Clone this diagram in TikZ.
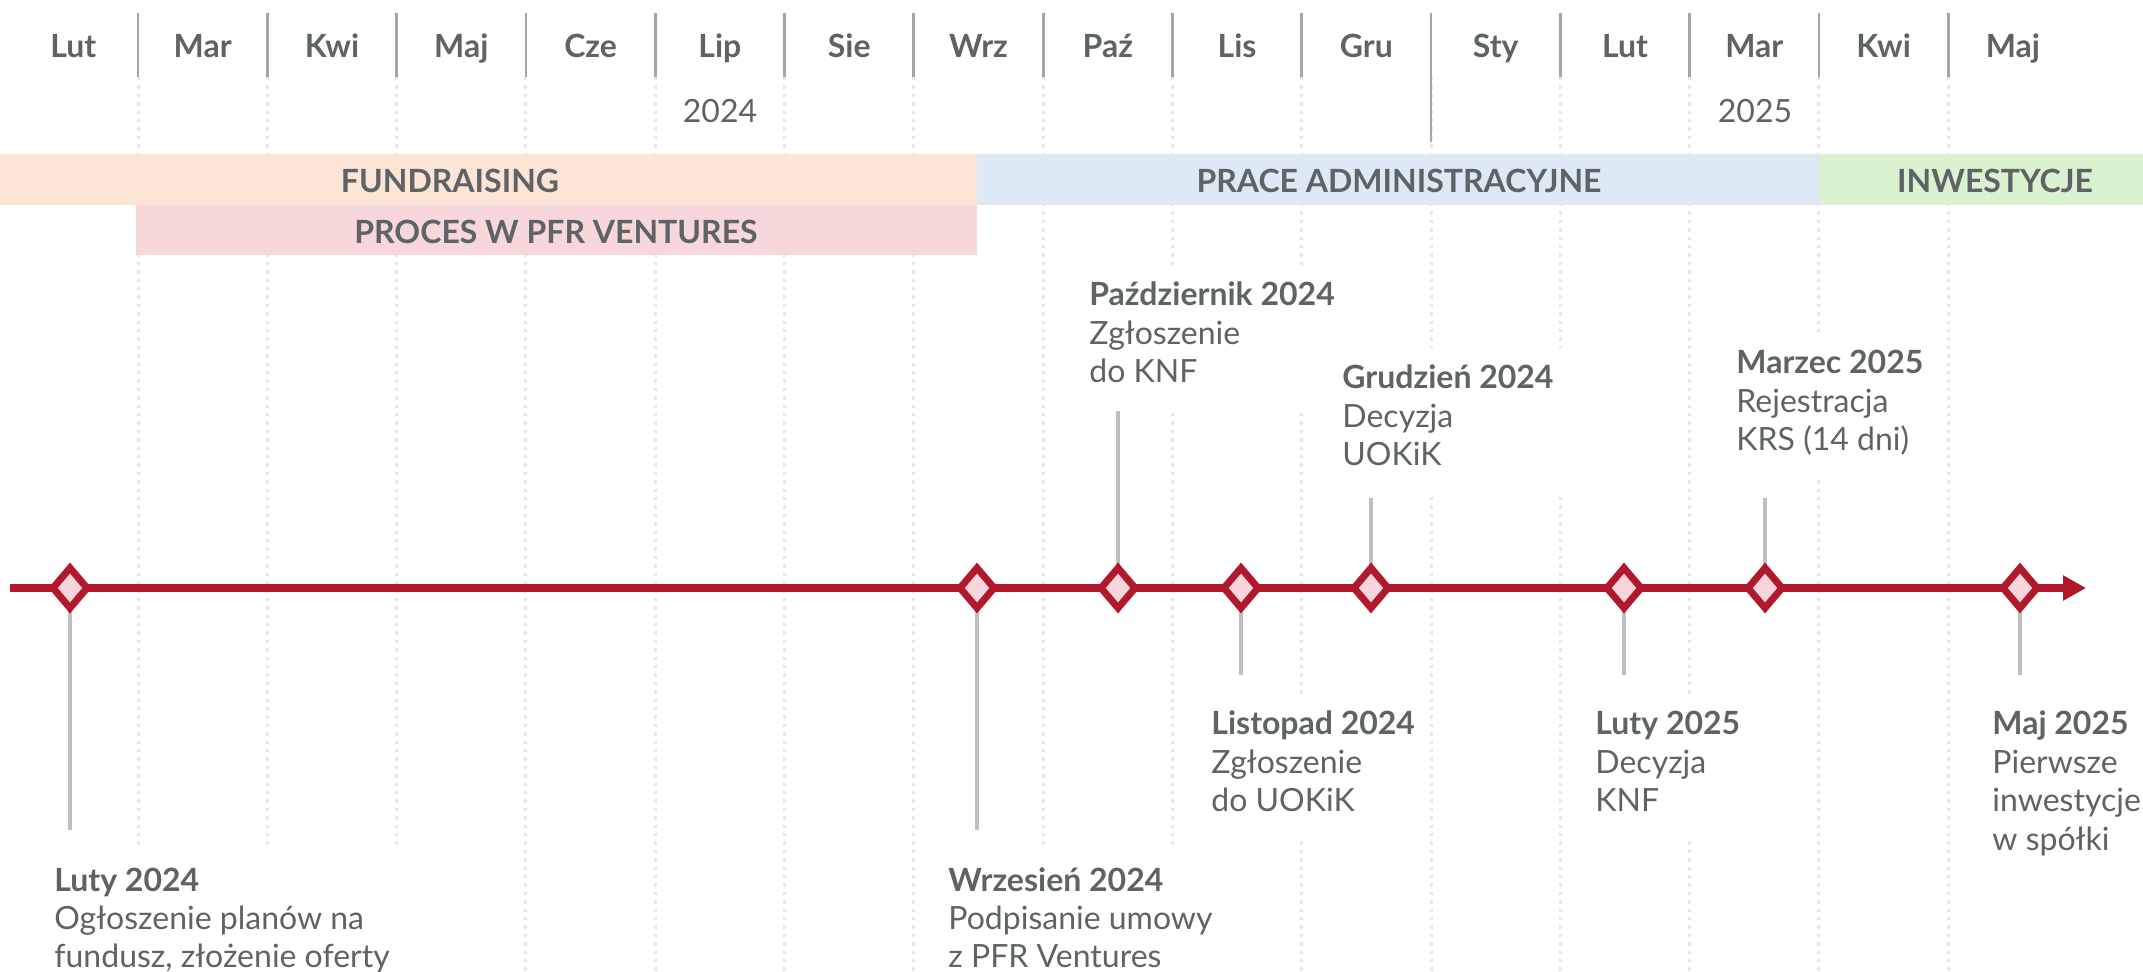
\documentclass[tikz,border=0pt]{standalone}
\usepackage{fontspec}
\setmainfont{Lato}
\usetikzlibrary{shapes.geometric,arrows.meta}
\definecolor{txt}{HTML}{5E6366}
\definecolor{tl}{HTML}{B2182B}
\definecolor{dfill}{HTML}{F9D6DB}
\definecolor{peach}{HTML}{FCE4D6}
\definecolor{pinkbar}{HTML}{F8D7DB}
\definecolor{bluebar}{HTML}{DDEAF6}
\definecolor{greenbar}{HTML}{DBF2D1}
\definecolor{stemc}{HTML}{BFBFBF}
\definecolor{gridc}{HTML}{E6E6E6}
\definecolor{sepc}{HTML}{A6A6A6}
\pgfdeclarelayer{bg}
\pgfsetlayers{bg,main}
\begin{document}
\begin{tikzpicture}[x=0.5pt,y=-0.5pt,
  every node/.style={text=txt, font=\fontsize{16}{19.25}\selectfont},
  month/.style={font=\fontsize{16}{19.25}\selectfont\bfseries, anchor=base},
  yearlbl/.style={anchor=base},
  barlbl/.style={font=\fontsize{16}{19.25}\selectfont\bfseries, anchor=base},
  sep/.style={draw=sepc, line width=1.4pt},
  gridline/.style={draw=gridc, line width=1.5pt, dash pattern=on 1.7pt off 2.5pt},
  stem/.style={draw=stemc, line width=2pt},
  ms/.style={diamond, draw=tl, fill=dfill, line width=3.5pt, minimum width=17pt, minimum height=20pt, inner sep=0pt, outer sep=0pt},
  lbl/.style={anchor=base west, fill=white, inner xsep=5pt, inner ysep=7pt},
  axis/.style={draw=tl, line width=4pt, -{Triangle[length=11.5pt,width=12pt]}},
]
\useasboundingbox (0,0) rectangle (2143,972);

% month grid
\begin{pgfonlayer}{bg}
\foreach \k in {0,...,14}{
  \pgfmathsetmacro\xx{138+129.3*\k}
  \draw[gridline] (\xx,77) -- (\xx,972);
}
\fill[peach] (0,154) rectangle (977,205);
\fill[bluebar] (977,154) rectangle (1820,205);
\fill[greenbar] (1820,154) rectangle (2143,205);
\fill[pinkbar] (136,205) rectangle (977,255);
\end{pgfonlayer}

\foreach \k in {0,...,14}{
  \pgfmathsetmacro\xx{138+129.3*\k}
  \ifnum\k=10
    \draw[sep] (\xx,13) -- (\xx,142);
  \else
    \draw[sep] (\xx,13) -- (\xx,77);
  \fi
}

\foreach \m [count=\i from 0] in {Lut,Mar,Kwi,Maj,Cze,Lip,Sie,Wrz,Paź,Lis,Gru,Sty,Lut,Mar,Kwi,Maj}{
  \pgfmathsetmacro\xx{73.4+129.3*\i}
  \node[month] (m\i) at (\xx,58) {\m};
}
\node[yearlbl] (y24) at (720,123) {2024};
\node[yearlbl] (y25) at (1755,123) {2025};

% phase bars
\node[barlbl] (b1) at (450,193) {FUNDRAISING};
\node[barlbl] (b2) at (1399,193) {PRACE ADMINISTRACYJNE};
\node[barlbl] (b3) at (1995,193) {INWESTYCJE};
\node[barlbl] (b4) at (556,244) {PROCES W PFR VENTURES};

% timeline
\coordinate (ts) at (10,588);
\coordinate (te) at (2086,588);
\coordinate (s1) at (70,830);
\coordinate (s2) at (977,830);
\coordinate (s3) at (1118,411);
\coordinate (s4) at (1241,675);
\coordinate (s5) at (1371,498);
\coordinate (s6) at (1624,675);
\coordinate (s7) at (1765,498);
\coordinate (s8) at (2020,675);

\node[ms] (d1) at (70,588) {};
\node[ms] (d2) at (977,588) {};
\node[ms] (d3) at (1118,588) {};
\node[ms] (d4) at (1241,588) {};
\node[ms] (d5) at (1371,588) {};
\node[ms] (d6) at (1624,588) {};
\node[ms] (d7) at (1765,588) {};
\node[ms] (d8) at (2020,588) {};

\begin{pgfonlayer}{bg}
\foreach \i in {1,...,8}{
  \draw[stem] (d\i.center) -- (s\i);
}
\draw[axis] (ts) -- (te);
\end{pgfonlayer}

% labels
\node[lbl] (l1) at (44,891) {\begin{tabular}[t]{@{}l@{}}\textbf{Luty 2024}\\Ogłoszenie planów na\\fundusz, złożenie oferty\end{tabular}};
\node[lbl] (l2) at (938,891) {\begin{tabular}[t]{@{}l@{}}\textbf{Wrzesień 2024}\\Podpisanie umowy\\z PFR Ventures\end{tabular}};
\node[lbl] (l3) at (1079,306) {\begin{tabular}[t]{@{}l@{}}\textbf{Październik 2024}\\Zgłoszenie\\do KNF\end{tabular}};
\node[lbl] (l4) at (1201,735) {\begin{tabular}[t]{@{}l@{}}\textbf{Listopad 2024}\\Zgłoszenie\\do UOKiK\end{tabular}};
\node[lbl] (l5) at (1332,389) {\begin{tabular}[t]{@{}l@{}}\textbf{Grudzień 2024}\\Decyzja\\UOKiK\end{tabular}};
\node[lbl] (l6) at (1585,735) {\begin{tabular}[t]{@{}l@{}}\textbf{Luty 2025}\\Decyzja\\KNF\end{tabular}};
\node[lbl] (l7) at (1726,374) {\begin{tabular}[t]{@{}l@{}}\textbf{Marzec 2025}\\Rejestracja\\KRS (14 dni)\end{tabular}};
\node[lbl] (l8) at (1982,735) {\begin{tabular}[t]{@{}l@{}}\textbf{Maj 2025}\\Pierwsze\\inwestycje\\w spółki\end{tabular}};
\end{tikzpicture}
\end{document}
